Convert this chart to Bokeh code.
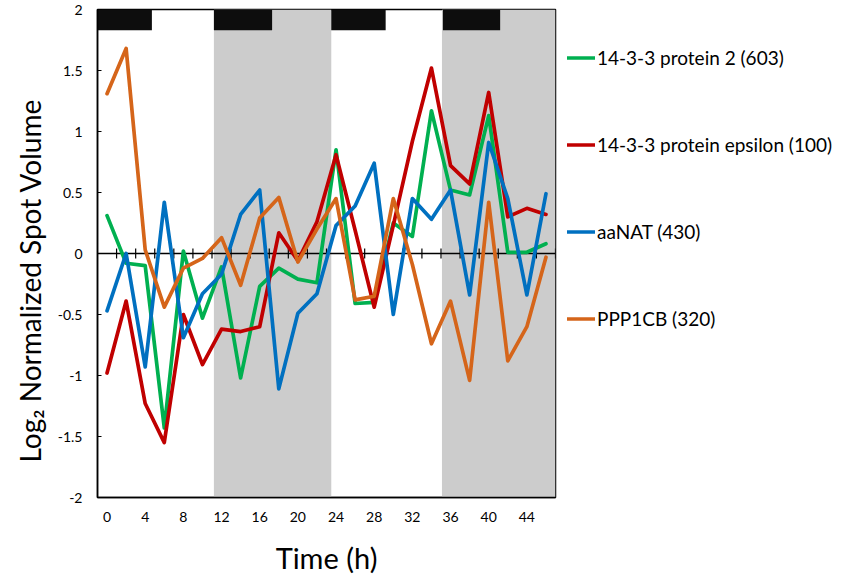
from bokeh.plotting import figure
from bokeh.models import Legend, LegendItem, FixedTicker, Range1d, Title
from bokeh.embed import file_html
from bokeh.resources import INLINE

# ---- data ----
hours = [0, 2, 4, 6, 8, 10, 12, 14, 16, 18, 20, 22,
         24, 26, 28, 30, 32, 34, 36, 38, 40, 42, 44, 46]

protein2_603 = [0.31, -0.08, -0.10, -1.43, 0.02, -0.53, -0.11, -1.02, -0.27, -0.12, -0.21, -0.24,
                0.85, -0.41, -0.40, 0.25, 0.14, 1.17, 0.52, 0.48, 1.13, 0.01, 0.01, 0.08]
epsilon_100 = [-0.98, -0.39, -1.23, -1.55, -0.50, -0.91, -0.62, -0.64, -0.60, 0.17, -0.06, 0.26,
               0.81, 0.19, -0.44, 0.23, 0.92, 1.52, 0.72, 0.57, 1.32, 0.30, 0.37, 0.32]
aanat_430 = [-0.47, 0.00, -0.93, 0.42, -0.69, -0.33, -0.17, 0.32, 0.52, -1.11, -0.49, -0.33,
             0.23, 0.39, 0.74, -0.50, 0.45, 0.28, 0.52, -0.34, 0.91, 0.45, -0.34, 0.49]
ppp1cb_320 = [1.31, 1.68, 0.03, -0.44, -0.12, -0.04, 0.13, -0.26, 0.29, 0.46, -0.07, 0.20,
              0.45, -0.38, -0.35, 0.45, -0.09, -0.74, -0.39, -1.04, 0.42, -0.88, -0.60, -0.03]

series_names = ["14-3-3 protein 2 (603)", "14-3-3 protein epsilon (100)", "aaNAT (430)", "PPP1CB (320)"]
series_values = [protein2_603, epsilon_100, aanat_430, ppp1cb_320]
series_colors = ["#00B050", "#C00000", "#0070C0", "#D5651A"]

# shaded (dark) periods and top bars, in hours
dark_start = [11.2, 35.1]
dark_end = [23.5, 47]
bar_start = [-1, 11.2, 23.5, 35.2]
bar_end = [4.7, 17.3, 29.2, 41.2]
bar_bottom = 1.83

x_start, x_end = -1, 47
y_start, y_end = -2, 2
x_tick_hours = [0, 4, 8, 12, 16, 20, 24, 28, 32, 36, 40, 44]
y_ticks = [-2, -1.5, -1, -0.5, 0, 0.5, 1, 1.5, 2]
y_tick_labels = ["-2", "-1.5", "-1", "-0.5", "0", "0.5", "1", "1.5", "2"]

FONT = "Lato"

p = figure(frame_width=458, frame_height=488,
           min_border_left=97, min_border_top=9, min_border_right=288, min_border_bottom=80,
           x_range=Range1d(x_start, x_end), y_range=Range1d(y_start, y_end),
           output_backend="svg", toolbar_location=None)
p.grid.visible = False
p.outline_line_color = "black"
p.outline_line_width = 1.5
p.background_fill_color = "white"
p.border_fill_color = "white"

# background bands
p.quad(left=dark_start, right=dark_end, bottom=y_start, top=y_end,
       fill_color="#CCCCCC", line_color=None)
p.quad(left=bar_start, right=bar_end, bottom=bar_bottom, top=y_end,
       fill_color="#0D0D0D", line_color=None)

# horizontal axis line at zero with category boundary ticks
p.segment(x0=[x_start], y0=[0], x1=[x_end], y1=[0], line_color="black", line_width=1.5)
bounds = [h + 1 for h in hours]
p.segment(x0=bounds, x1=bounds, y0=[-0.04] * len(bounds), y1=[0.04] * len(bounds),
          line_color="black", line_width=1.2)

items = []
for name, vals, col in zip(series_names, series_values, series_colors):
    r = p.line(hours, vals, line_color=col, line_width=3.7, line_join="round", line_cap="round")
    items.append(LegendItem(label=name, renderers=[r]))

legend = Legend(items=items, location="top_left", orientation="vertical",
                glyph_width=28, glyph_height=73, label_height=73, spacing=14,
                padding=0, margin=12, border_line_color=None, background_fill_alpha=0,
                label_text_font=FONT, label_text_font_size="19px", label_standoff=2,
                label_text_color="black")
p.add_layout(legend, "right")

# x axis
p.xaxis.ticker = FixedTicker(ticks=x_tick_hours)
p.xaxis.major_tick_line_color = None
p.xaxis.minor_tick_line_color = None
p.xaxis.axis_line_color = "black"
p.xaxis.axis_line_width = 1.5
p.xaxis.major_label_standoff = 8
p.xaxis.major_label_text_font = FONT
p.xaxis.major_label_text_font_size = "14px"
p.xaxis.major_label_text_color = "black"
p.xaxis.axis_label = "Time (h)"
p.xaxis.axis_label_text_font = FONT
p.xaxis.axis_label_text_font_size = "29px"
p.xaxis.axis_label_text_font_style = "normal"
p.xaxis.axis_label_text_color = "black"
p.xaxis.axis_label_standoff = 15

# y axis
p.yaxis.ticker = FixedTicker(ticks=y_ticks)
p.yaxis.major_label_overrides = {t: l for t, l in zip(y_ticks, y_tick_labels)}
p.yaxis.major_tick_in = 4
p.yaxis.major_tick_out = 0
p.yaxis.major_tick_line_color = "black"
p.yaxis.minor_tick_line_color = None
p.yaxis.axis_line_color = "black"
p.yaxis.axis_line_width = 1.5
p.yaxis.major_label_standoff = 15
p.yaxis.major_label_text_font = FONT
p.yaxis.major_label_text_font_size = "14px"
p.yaxis.major_label_text_color = "black"

y_title = Title(text="Log\u2082 Normalized Spot Volume", align="left", offset=35,
                vertical_align="top",
                text_font=FONT, text_font_size="28px", text_font_style="normal",
                text_color="black", standoff=12)
p.add_layout(y_title, "left")

open("out.html", "w").write(file_html(p, INLINE))
